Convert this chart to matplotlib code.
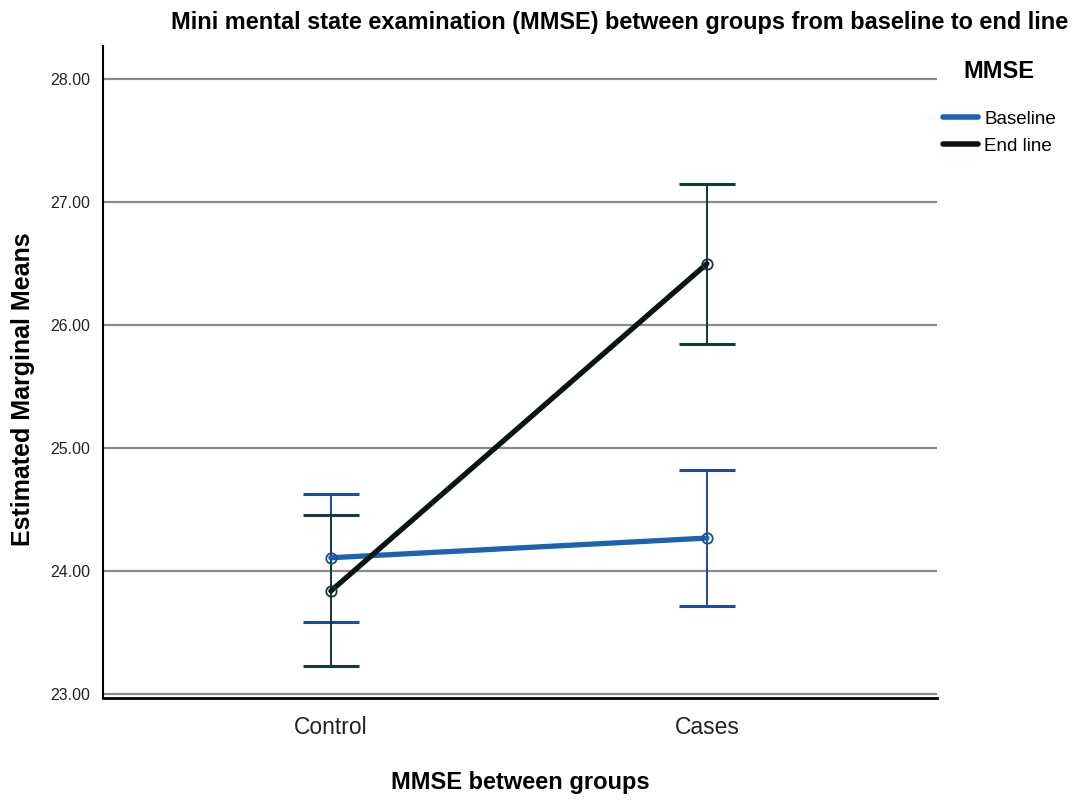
import matplotlib
matplotlib.use('Agg')
import matplotlib.pyplot as plt

groups = ['Control', 'Cases']
baseline_mean = [24.11, 24.27]
baseline_low = [23.59, 23.72]
baseline_high = [24.63, 24.82]
endline_mean = [23.84, 26.50]
endline_low = [23.23, 25.85]
endline_high = [24.46, 27.15]
yticks = [23, 24, 25, 26, 27, 28]

plt.rcParams['font.family'] = ['Liberation Sans', 'DejaVu Sans']

fig = plt.figure(figsize=(10.79, 8), dpi=100)
ax = fig.add_axes([103 / 1079, 102 / 800, 834 / 1079, 652 / 800])

x = list(range(len(groups)))

def draw_series(mean, low, high, line_color, bar_color, label):
    err = [[m - l for m, l in zip(mean, low)], [h - m for m, h in zip(mean, high)]]
    ax.errorbar(x, mean, yerr=err, fmt='none', ecolor=bar_color, elinewidth=1.4,
                capsize=20, capthick=2.2, zorder=3)
    ax.plot(x, mean, color=line_color, lw=3.8, zorder=4, label=label,
            solid_capstyle='round')
    ax.plot(x, mean, 'o', mfc='none', mec=bar_color, mew=1.3, ms=7.5, zorder=5)

draw_series(baseline_mean, baseline_low, baseline_high, '#1c62b0', '#1f4a9a', 'Baseline')
draw_series(endline_mean, endline_low, endline_high, '#0a1414', '#143a3a', 'End line')

ax.set_xlim(-0.606, 1.612)
ax.set_ylim(22.97, 28.27)
ax.set_xticks(x)
ax.set_xticklabels(groups, fontsize=16.5, color='#222222')
ax.set_yticks(yticks)
ax.set_yticklabels(['%.2f' % t for t in yticks], fontsize=11.5, color='#222222')
ax.tick_params(length=0)
ax.tick_params(axis='y', pad=9)
ax.tick_params(axis='x', pad=13)
ax.yaxis.grid(True, color='#8a8a8a', lw=1.6)
ax.set_axisbelow(True)
for side in ['top', 'right']:
    ax.spines[side].set_visible(False)
ax.spines['left'].set_linewidth(1.5)
ax.spines['bottom'].set_linewidth(2)

ax.set_ylabel('Estimated Marginal Means', fontsize=18, fontweight='bold')
ax.yaxis.set_label_coords(-0.082, 0.474)
ax.set_xlabel('MMSE between groups', fontsize=17, fontweight='bold', labelpad=23)
fig.text(620 / 1079, 1 - 22 / 800,
         'Mini mental state examination (MMSE) between groups from baseline to end line',
         ha='center', va='center', fontsize=16.9, fontweight='bold')

# legend title placed on its own, entries below it
fig.text(999 / 1079, 1 - 72 / 800, 'MMSE', ha='center', va='center',
         fontsize=17, fontweight='bold')
leg = ax.legend(loc='upper left', bbox_to_anchor=(934 / 1079, 1 - 101 / 800),
                bbox_transform=fig.transFigure, frameon=False, fontsize=13.5,
                handlelength=1.85, handletextpad=0.32, labelspacing=0.55, borderpad=0)
for line in leg.get_lines():
    line.set_linewidth(4)

plt.savefig('out.png', dpi=100)
